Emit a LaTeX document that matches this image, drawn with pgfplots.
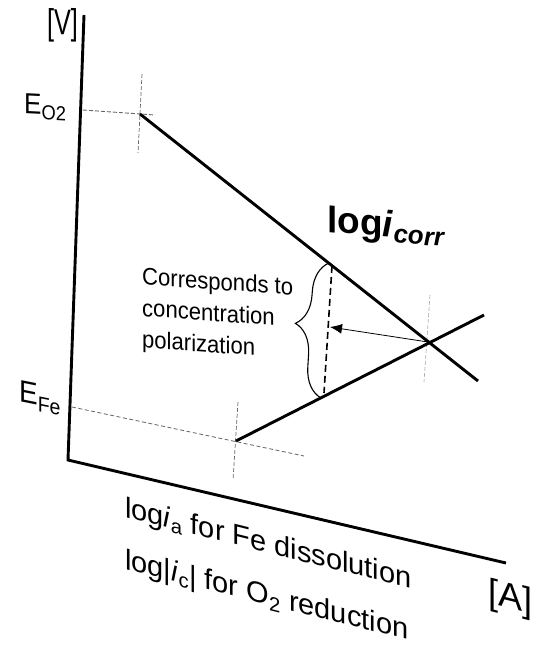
\documentclass[border=0pt]{standalone}
\usepackage{pgfplots}
\pgfplotsset{compat=1.18}
\usepackage{fontspec}
\setmainfont{Liberation Sans}
\usetikzlibrary{arrows.meta,decorations.pathreplacing}

\newcommand{\fs}[1]{\fontsize{#1}{#1}\selectfont}

\begin{document}
\begin{tikzpicture}
\begin{axis}[
  width=542pt, height=646pt, scale only axis,
  xmin=0, xmax=542, ymin=0, ymax=646,
  y dir=reverse,
  hide axis, clip=false,
]
% axes of the Evans diagram (drawn in perspective)
\addplot[black, line width=2.9pt, line join=miter] coordinates {(84,15) (68,460) (506,563)};

% guide lines
\addplot[gray!80!black, line width=0.9pt, dash pattern=on 4pt off 2pt] coordinates {(83,110) (155,115)};
\addplot[gray!80!black, line width=0.7pt, dash pattern=on 4pt off 2pt] coordinates {(142,74) (138,153)};
\addplot[gray!80!black, line width=0.8pt, dash pattern=on 4pt off 2.5pt] coordinates {(72,407) (304,456)};
\addplot[gray!80!black, line width=0.7pt, dash pattern=on 4pt off 2pt] coordinates {(238,402) (233,480)};
\addplot[gray!70, line width=0.6pt, dash pattern=on 4pt off 2pt] coordinates {(430,295) (424,382)};

% cathodic (O2) and anodic (Fe) Tafel lines
\addplot[black, line width=2.9pt] coordinates {(140,114) (478,381)};
\addplot[black, line width=2.9pt] coordinates {(236,441) (484,315)};

% concentration polarization span
\addplot[black, line width=1.6pt, dash pattern=on 7pt off 4pt] coordinates {(332,266) (324,393)};
\addplot[black, line width=0.8pt, -{Latex[length=12pt,width=10pt]}] coordinates {(428,342) (330,327)};
\draw[black, line width=1.1pt, decorate, decoration={brace, amplitude=30pt, aspect=0.54}]
  (axis cs:321,398) -- (axis cs:329,263);

% labels
\node[anchor=base west, inner sep=0pt, yslant=-0.03, xscale=0.7] at (axis cs:47,34) {\fs{36}[V]};
\node[anchor=base west, inner sep=0pt, yslant=-0.05, xscale=0.9] at (axis cs:24,113) {\fs{29}E\textsubscript{O2}};
\node[anchor=base west, inner sep=0pt, yslant=-0.2, xscale=0.9] at (axis cs:19,401) {\fs{31}E\textsubscript{Fe}};
\node[anchor=base west, inner sep=0pt, yslant=-0.08] at (axis cs:327,232) {\fs{37}\bfseries log\textit{i}\textsubscript{\itshape corr}};

\node[anchor=north west, inner sep=0pt, align=left, yslant=-0.07, xscale=0.92,
      font=\fontsize{24}{31.5}\selectfont] at (axis cs:142,267)
  {Corresponds to\\concentration\\polarization};

\node[anchor=base west, inner sep=0pt, yslant=-0.25] at (axis cs:125,517) {\fs{29}log\textit{i}\textsubscript{a} for Fe dissolution};
\node[anchor=base west, inner sep=0pt, yslant=-0.25] at (axis cs:125,569) {\fs{29}log|\textit{i}\textsubscript{c}| for O\textsubscript{2} reduction};
\node[anchor=base west, inner sep=0pt, yslant=-0.25] at (axis cs:488,603) {\fs{36}[A]};
\end{axis}
\pgfresetboundingbox
\path (current axis.south west) rectangle (current axis.north east);
\end{tikzpicture}
\end{document}
